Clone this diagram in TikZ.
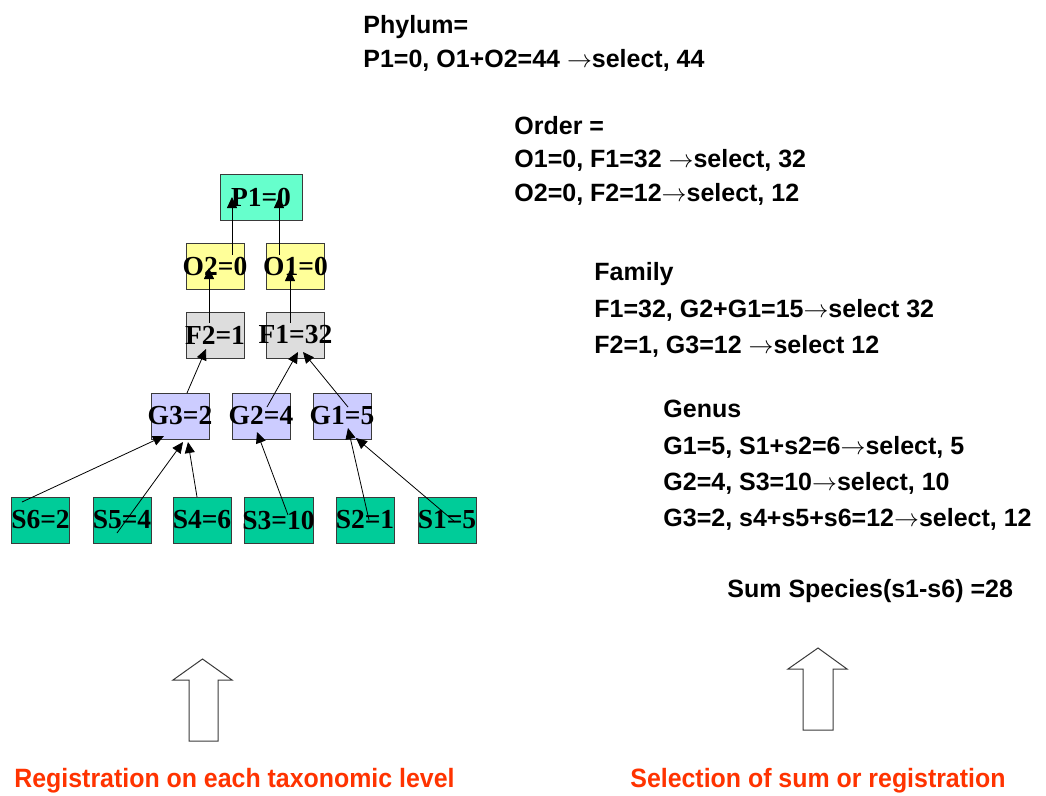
\documentclass[tikz,border=0pt]{standalone}
\usepackage{fontspec}
\setmainfont{Liberation Serif}
\newfontfamily\notefont{Liberation Sans}
\newfontfamily\captionfont[FakeStretch=0.94]{Liberation Sans}
\usetikzlibrary{positioning, arrows.meta, calc}

\definecolor{phylumcol}{HTML}{66FFCC}
\definecolor{ordercol}{HTML}{FFFF99}
\definecolor{familycol}{HTML}{DDDDDD}
\definecolor{genuscol}{HTML}{CCCCFF}
\definecolor{speciescol}{HTML}{00CC99}
\definecolor{boxline}{HTML}{3A3A3A}
\definecolor{captionred}{HTML}{FF3300}

% label centred on the box, allowed to run over its sides
\newcommand{\taxon}[1]{\makebox[0pt]{#1}}

\tikzset{
  taxbox/.style={draw=boxline, line width=1pt, inner sep=0pt,
    minimum width=58pt, minimum height=46pt,
    font=\bfseries\fontsize{27.5}{28}\selectfont},
  phylumbox/.style={taxbox, fill=phylumcol, minimum width=82pt},
  orderbox/.style={taxbox, fill=ordercol},
  familybox/.style={taxbox, fill=familycol},
  genusbox/.style={taxbox, fill=genuscol},
  speciesbox/.style={taxbox, fill=speciescol},
  noteline/.style={anchor=base west, inner sep=0pt,
    font=\notefont\bfseries\fontsize{25}{30}\selectfont},
  captionline/.style={anchor=base west, inner sep=0pt, text=captionred,
    font=\captionfont\bfseries\fontsize{26.5}{30}\selectfont}
}

\begin{document}
\begin{tikzpicture}[x=1pt, y=-1pt, ->, >={Triangle[length=11pt,width=10pt]},
    line width=0.8pt, node distance=81pt]
  \useasboundingbox (0,0) rectangle (1046,795);

  % Taxonomic tree
  \node[phylumbox] (P1) at (261,197) {\taxon{P1=0}};
  \node[orderbox] (O2) at (215,266) {\taxon{O2=0}};
  \node[orderbox, right of=O2, node distance=80.5pt] (O1) {\taxon{O1=0}};
  \node[familybox, below of=O2, node distance=69pt] (F2) {\taxon{F2=1}};
  \node[familybox, below of=O1, node distance=69pt] (F1) {\taxon{F1=32}};
  \node[genusbox] (G3) at (180,416) {\taxon{G3=2}};
  \node[genusbox, right of=G3] (G2) {\taxon{G2=4}};
  \node[genusbox, right of=G2] (G1) {\taxon{G1=5}};
  \node[speciesbox] (S6) at (40.5,520) {\taxon{S6=2}};
  \node[speciesbox] (S5) at (122,520) {\taxon{S5=4}};
  \node[speciesbox] (S4) at (202,520) {\taxon{S4=6}};
  \node[speciesbox, minimum width=69pt] (S3) at (278.5,520) {\taxon{S3=10}};
  \node[speciesbox] (S2) at (365,520) {\taxon{S2=1}};
  \node[speciesbox] (S1) at (447,520) {\taxon{S1=5}};

  \draw ($(O2)+(17,-11)$) -- ($(P1)+(-29,0)$);
  \draw ($(O1)+(-16.5,-11)$) -- ($(P1)+(18,0)$);
  \draw ($(F2)+(-6,-12)$) -- ($(O2)+(-6,2)$);
  \draw ($(F1)+(-5.5,-12)$) -- ($(O1)+(-5.5,4)$);
  \draw ($(G3)+(7,-23)$) -- ($(F2)+(-9,14)$);
  \draw ($(G2)+(6,-9)$) -- ($(F1)+(2.5,17)$);
  \draw ($(G1)+(6,-9)$) -- ($(F1)+(7.5,17)$);
  \draw ($(S6)+(-18.5,-18)$) -- ($(G3)+(-16,20)$);
  \draw ($(S5)+(-5,13)$) -- ($(G3)+(3,26)$);
  \draw ($(S4)+(-5,-23)$) -- ($(G3)+(8,26)$);
  \draw ($(S3)+(9.5,-5)$) -- ($(G2)+(-4,16)$);
  \draw ($(S2)+(4,0)$) -- ($(G1)+(6,12)$);
  \draw ($(S1)+(8,2)$) -- ($(G1)+(14,22)$);

  % Selection per level
  \node[noteline] (phylum) at (363,33) {Phylum=};
  \node[noteline] (phylumsel) at (363,67) {P1=0, O1+O2=44 $\rightarrow$select, 44};
  \node[noteline] (order) at (514,134) {Order =};
  \node[noteline] (ordersel1) at (514,167) {O1=0, F1=32 $\rightarrow$select, 32};
  \node[noteline] (ordersel2) at (514,201) {O2=0, F2=12$\rightarrow$select, 12};
  \node[noteline] (family) at (594,280) {Family};
  \node[noteline] (familysel1) at (594,317) {F1=32, G2+G1=15$\rightarrow$select 32};
  \node[noteline] (familysel2) at (594,353) {F2=1, G3=12 $\rightarrow$select 12};
  \node[noteline] (genus) at (663,417) {Genus};
  \node[noteline] (genussel1) at (663,454) {G1=5, S1+s2=6$\rightarrow$select, 5};
  \node[noteline] (genussel2) at (663,490) {G2=4, S3=10$\rightarrow$select, 10};
  \node[noteline] (genussel3) at (663,526) {G3=2, s4+s5+s6=12$\rightarrow$select, 12};
  \node[noteline] (sumspecies) at (727,597) {Sum Species(s1-s6) =28};

  % Hollow arrows and captions
  \draw[-, draw=boxline, line width=1pt] (202.5,659) -- (232,680) -- (218,680) -- (218,741)
    -- (189,741) -- (189,680) -- (173,680) -- cycle;
  \draw[-, draw=boxline, line width=1pt] (818,648) -- (847,669) -- (833,669) -- (833,730)
    -- (803,730) -- (803,669) -- (788,669) -- cycle;
  \node[captionline] (regnote) at (14,787) {Registration on each taxonomic level};
  \node[captionline] (selnote) at (630,787) {Selection of sum or registration};
\end{tikzpicture}
\end{document}
